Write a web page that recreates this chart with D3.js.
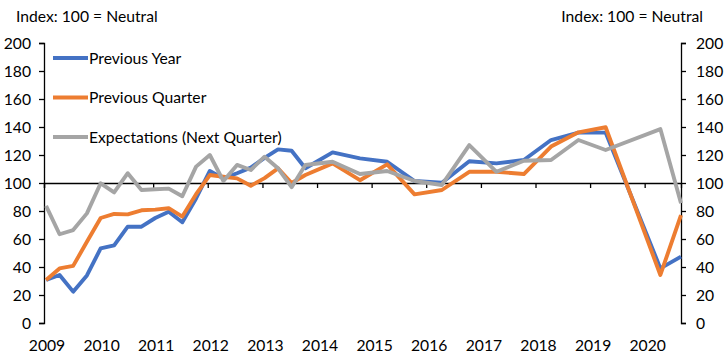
<!DOCTYPE html>
<html>
<head>
<meta charset="utf-8">
<script src="https://cdnjs.cloudflare.com/ajax/libs/d3/7.8.5/d3.min.js"></script>
<style>
  body { margin: 0; background: #fff; }
  text { font-family: Lato, "Open Sans", sans-serif; fill: #000; }
</style>
</head>
<body>
<div class="myBox"></div>
<script>
   var width = 725;
   var height = 358;

   // survey dates: quarterly to end-2013, then half-yearly
   var dates = ["2009-01-15","2009-04-15","2009-07-15","2009-10-15",
                "2010-01-15","2010-04-15","2010-07-15","2010-10-15",
                "2011-01-15","2011-04-15","2011-07-15","2011-10-15",
                "2012-01-15","2012-04-15","2012-07-15","2012-10-15",
                "2013-01-15","2013-04-15","2013-07-15","2013-10-15",
                "2014-04-15","2014-10-15","2015-04-15","2015-10-15",
                "2016-04-15","2016-10-15","2017-04-15","2017-10-15",
                "2018-04-15","2018-10-15","2019-04-15",
                "2020-04-15","2020-08-31"];

   var previousYear = [30.7, 34.3, 22.4, 34,
                       53.3, 55.5, 68.8, 68.8,
                       75, 79.5, 72, 89,
                       108.6, 103.3, 107, 111,
                       118, 124, 123, 110.5,
                       121.9, 117.6, 115.2, 101.4,
                       100.2, 115.5, 114, 116.4,
                       130.7, 136, 136,
                       39, 47.4];

   var previousQuarter = [30.7, 39, 40.8, 58,
                          75, 77.9, 77.6, 80.5,
                          81, 82, 76, 92,
                          105.7, 104.5, 103.3, 98,
                          103.5, 110.5, 100, 105.7,
                          114, 102, 113.3, 91.9,
                          95, 108, 108, 106.4,
                          126, 136.2, 139.8,
                          34.3, 77];

   var expectations = [83.6, 63.4, 66.4, 78.3,
                       99.8, 93.3, 107, 95,
                       95.5, 96, 90.5, 111.7,
                       120, 101.4, 112.9, 109.3,
                       118.8, 110.5, 97, 112.9,
                       115.2, 106.4, 108.6, 101.4,
                       98.6, 127.1, 108, 115.9,
                       116.4, 130.7, 123.6,
                       138.5, 85.5];

   var yTicks = [0, 20, 40, 60, 80, 100, 120, 140, 160, 180, 200];
   var years = [2009, 2010, 2011, 2012, 2013, 2014, 2015, 2016, 2017, 2018, 2019, 2020];

   var series = [
     {name: "Previous Year", values: previousYear, color: "#4472C4"},
     {name: "Previous Quarter", values: previousQuarter, color: "#ED7D31"},
     {name: "Expectations (Next Quarter)", values: expectations, color: "#A5A5A5"}
   ];

   var fontSize = "15.7px";
   var parse = d3.timeParse("%Y-%m-%d");

   var svg = d3.select(".myBox")
   .append("svg")
   .attr("width", width)
   .attr("height", height);

   var x = d3.scaleTime()
     .domain([new Date(2009, 0, 1), parse("2020-08-31")])
     .range([44, 681]);

   var y = d3.scaleLinear()
     .domain([0, 200])
     .range([323, 43]);

   // left axis
   var left = svg.append("g")
     .attr("transform", "translate(" + x.range()[0] + ",0)")
     .call(d3.axisLeft(y).tickValues(yTicks).tickSize(5).tickPadding(8));

   // right axis
   var right = svg.append("g")
     .attr("transform", "translate(" + x.range()[1] + ",0)")
     .call(d3.axisRight(y).tickValues(yTicks).tickSize(5).tickPadding(10));

   [left, right].forEach(function(a) {
     a.select(".domain").attr("stroke", "#000").attr("stroke-width", 1.3);
     a.selectAll(".tick line").attr("stroke", "#000").attr("stroke-width", 1.3);
     a.selectAll(".tick text").style("font-size", fontSize).attr("fill", "#000")
       .style("font-family", "Lato, sans-serif");
   });

   // x axis sits on the 100 line
   var xAxis = svg.append("g")
     .attr("transform", "translate(0," + y(100) + ")")
     .call(d3.axisBottom(x)
       .tickValues(years.map(function(d) { return new Date(d, 0, 1); }))
       .tickSize(5)
       .tickFormat(""));
   xAxis.select(".domain").attr("stroke", "#000").attr("stroke-width", 1.3);
   xAxis.selectAll(".tick line").attr("stroke", "#000").attr("stroke-width", 1.3);

   svg.append("g").selectAll("text")
     .data(years)
     .enter().append("text")
       .attr("x", function(d) { return x(new Date(d, 0, 1)) + 3; })
       .attr("y", 351)
       .attr("text-anchor", "middle")
       .style("font-size", fontSize)
       .text(function(d) { return d; });

   // axis titles
   svg.append("text").attr("x", 16).attr("y", 22).style("font-size", fontSize).text("Index: 100 = Neutral");
   svg.append("text").attr("x", 703).attr("y", 22).attr("text-anchor", "end").style("font-size", fontSize).text("Index: 100 = Neutral");

   var line = d3.line()
     .x(function(d) { return x(d.date); })
     .y(function(d) { return y(d.value); });

   svg.append("g").selectAll("path")
     .data(series)
     .enter().append("path")
       .attr("fill", "none")
       .attr("stroke", function(d) { return d.color; })
       .attr("stroke-width", 3.9)
       .attr("stroke-linejoin", "round")
       .attr("d", function(s) {
         return line(s.values.map(function(v, i) { return {date: parse(dates[i]), value: v}; }));
       });

   // legend
   var legend = svg.append("g").selectAll("g")
     .data(series)
     .enter().append("g")
       .attr("transform", function(d, i) { return "translate(53," + (58 + i * 39.5) + ")"; });

   legend.append("line")
     .attr("x1", 0).attr("x2", 35)
     .attr("stroke", function(d) { return d.color; })
     .attr("stroke-width", 3.9);

   legend.append("text")
     .attr("x", 36)
     .attr("dy", "0.35em")
     .style("font-size", fontSize)
     .text(function(d) { return d.name; });
</script>
</body>
</html>
